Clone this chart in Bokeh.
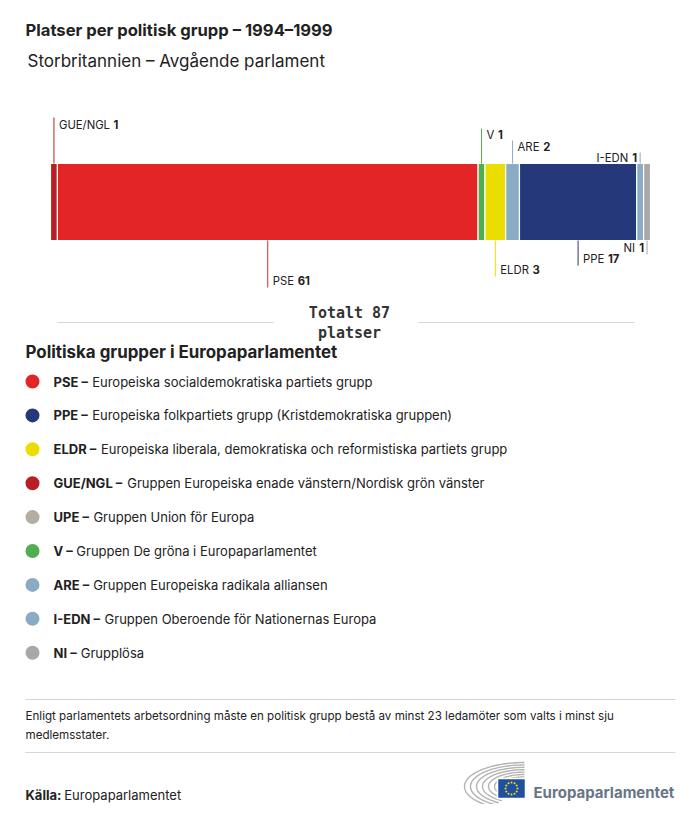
from bokeh.plotting import figure
from bokeh.models import Range1d
from bokeh.embed import file_html
from bokeh.resources import INLINE
from bokeh.core.properties import value
import numpy as np

# ---------------- data ----------------
title = "Platser per politisk grupp – 1994–1999"
subtitle = "Storbritannien – Avgående parlament"

bar_groups = ["GUE/NGL", "PSE", "V", "ELDR", "ARE", "PPE", "I-EDN", "NI"]
bar_seats = [1, 61, 1, 3, 2, 17, 1, 1]
bar_colors = ["#b81f24", "#e42525", "#4fae52", "#ecdd00", "#89acc4", "#25387a", "#89acc4", "#a8a8a8"]

legend_title = "Politiska grupper i Europaparlamentet"
legend_codes = ["PSE", "PPE", "ELDR", "GUE/NGL", "UPE", "V", "ARE", "I-EDN", "NI"]
legend_names = [
    "Europeiska socialdemokratiska partiets grupp",
    "Europeiska folkpartiets grupp (Kristdemokratiska gruppen)",
    "Europeiska liberala, demokratiska och reformistiska partiets grupp",
    "Gruppen Europeiska enade vänstern/Nordisk grön vänster",
    "Gruppen Union för Europa",
    "Gruppen De gröna i Europaparlamentet",
    "Gruppen Europeiska radikala alliansen",
    "Gruppen Oberoende för Nationernas Europa",
    "Grupplösa",
]
legend_colors = ["#e42525", "#25387a", "#ecdd00", "#b81f24", "#b5ada2", "#4fae52", "#89acc4", "#89acc4", "#a8a8a8"]

footnote_lines = [
    "Enligt parlamentets arbetsordning måste en politisk grupp bestå av minst 23 ledamöter som valts i minst sju",
    "medlemsstater.",
]
source_label = "Källa:"
source_name = "Europaparlamentet"
logo_name = "Europaparlamentet"

# ---------------- layout helpers ----------------
FONT = "Inter"
W = {' ': .28, 'a': .55, 'b': .61, 'c': .55, 'd': .61, 'e': .57, 'f': .35, 'g': .61, 'h': .59,
     'i': .24, 'j': .24, 'k': .52, 'l': .24, 'm': .87, 'n': .59, 'o': .59, 'p': .61, 'q': .61,
     'r': .37, 's': .52, 't': .35, 'u': .59, 'v': .54, 'w': .80, 'x': .52, 'y': .54, 'z': .53,
     'å': .55, 'ä': .55, 'ö': .59, 'A': .68, 'B': .64, 'C': .70, 'D': .71, 'E': .58, 'F': .56,
     'G': .72, 'H': .73, 'I': .26, 'J': .50, 'K': .65, 'L': .53, 'M': .87, 'N': .74, 'O': .75,
     'P': .62, 'Q': .75, 'R': .63, 'S': .62, 'T': .62, 'U': .71, 'V': .68, 'W': .98, 'X': .66,
     'Y': .66, 'Z': .63, '/': .34, '-': .42, '–': .50, '(': .35, ')': .35, '.': .27, ',': .27,
     ':': .27, '1': .45}


def tw(s, size, bold=False):
    w = sum(W.get(c, .60) for c in s) * size
    return w * (1.07 if bold else 1.04)


WIDTH, HEIGHT = 684, 804
p = figure(width=WIDTH, height=HEIGHT, output_backend="svg", toolbar_location=None,
           x_range=Range1d(0, WIDTH), y_range=Range1d(HEIGHT, 0),
           x_axis_location=None, y_axis_location=None, min_border=0,
           outline_line_color=None, background_fill_color="white", border_fill_color="white")
p.grid.visible = False

# seats scale: bar spans pixel 50..650
bar_x0, bar_x1 = 50, 650
total = sum(bar_seats)
s = total / (bar_x1 - bar_x0)
p.extra_x_ranges = {"seats": Range1d((0 - bar_x0) * s, (WIDTH - bar_x0) * s)}

DARK = "#222222"

# title
p.text(x=[25], y=[29], text=[title], text_font=value(FONT), text_font_size="16.6px",
       text_font_style="bold", text_color=DARK, text_baseline="middle")
p.text(x=[27], y=[60], text=[subtitle], text_font=value(FONT), text_font_size="17px",
       text_color=DARK, text_baseline="middle")

# bar
cum = np.cumsum([0] + bar_seats)
lefts, rights = cum[:-1], cum[1:]
centers = (lefts + rights) / 2
BAR_TOP, BAR_BOT = 163, 240
p.quad(left=lefts, right=rights, top=BAR_TOP, bottom=BAR_BOT, fill_color=bar_colors,
       line_color="white", line_width=1.2, x_range_name="seats")

# labels
label_pos = {  # side, end of leader line, text y, align
    "GUE/NGL": ("above", 117, 124, "left"),
    "V": ("above", 128, 134, "left"),
    "ARE": ("above", 140, 146, "left"),
    "I-EDN": ("above", 152, 157, "right"),
    "PSE": ("below", 287, 280, "left"),
    "ELDR": ("below", 276, 269, "left"),
    "PPE": ("below", 265, 258, "left"),
    "NI": ("below", 254, 247, "right"),
}
LS = 11.3
GAP = 3.5
lx, ly0, ly1, lcol = [], [], [], []
nx, ny, ntext, noff, nalign = [], [], [], [], []
vx, vy, vtext, voff, valign = [], [], [], [], []
for g, n, c, cx in zip(bar_groups, bar_seats, bar_colors, centers):
    side, yend, ty, al = label_pos[g]
    lx.append(cx); lcol.append(c)
    ly0.append(BAR_TOP if side == "above" else BAR_BOT); ly1.append(yend)
    num = str(n)
    if al == "left":
        nx.append(cx); ny.append(ty); ntext.append(g); noff.append(5); nalign.append("left")
        vx.append(cx); vy.append(ty); vtext.append(num); voff.append(5 + tw(g, LS) + GAP); valign.append("left")
    else:
        vx.append(cx); vy.append(ty); vtext.append(num); voff.append(-3); valign.append("right")
        nx.append(cx); ny.append(ty); ntext.append(g); noff.append(-3 - tw(num, LS, True) - GAP)
        nalign.append("right")

p.segment(x0=lx, x1=lx, y0=ly0, y1=ly1, line_color=lcol, line_width=1, x_range_name="seats")
p.text(x=nx, y=ny, text=ntext, x_offset=noff, text_align=nalign, text_baseline="middle",
       text_font=value(FONT), text_font_size=f"{LS}px", text_color=DARK, x_range_name="seats")
p.text(x=vx, y=vy, text=vtext, x_offset=voff, text_align=valign, text_baseline="middle",
       text_font=value(FONT), text_font_size=f"{LS}px", text_font_style="bold", text_color=DARK,
       x_range_name="seats")

# total
p.segment(x0=[57, 418], x1=[273, 634], y0=[322, 322], y1=[322, 322], line_color="#d6d6d6", line_width=1)
p.text(x=[349, 349], y=[312, 332], text=[f"Totalt {total}", "platser"], text_align="center",
       text_baseline="middle", text_font=value("DejaVu Sans Mono"), text_font_size="15px",
       text_font_style="bold", text_color="#333333")

# legend
p.text(x=[25], y=[351], text=[legend_title], text_font=value(FONT), text_font_size="16.9px",
       text_font_style="bold", text_color=DARK, text_baseline="middle")
LG = 13
ly = [381 + i * 33.9 for i in range(len(legend_codes))]
p.scatter(x=[32] * len(ly), y=ly, size=14, marker="circle", fill_color=legend_colors, line_color=None)
codes = [c + " –" for c in legend_codes]
p.text(x=[53] * len(ly), y=ly, text=codes, text_font=value(FONT), text_font_size=f"{LG}px",
       text_font_style="bold", text_color=DARK, text_baseline="middle")
dx = [53 + tw(c, LG, True) + 2.5 for c in codes]
p.text(x=dx, y=ly, text=legend_names, text_font=value(FONT), text_font_size=f"{LG}px",
       text_color=DARK, text_baseline="middle")

# footnote
p.segment(x0=[25, 25], x1=[675, 675], y0=[699, 752], y1=[699, 752], line_color="#d6d6d6", line_width=1)
p.text(x=[25, 25], y=[715, 734], text=footnote_lines, text_font=value(FONT), text_font_size="11.6px",
       text_color=DARK, text_baseline="middle")

# source
p.text(x=[25], y=[794], text=[source_label], text_font=value(FONT), text_font_size="13px",
       text_font_style="bold", text_color=DARK, text_baseline="middle")
p.text(x=[25 + tw(source_label, 13, True) + 4.0], y=[794], text=[source_name], text_font=value(FONT),
       text_font_size="13px", text_color=DARK, text_baseline="middle")

# logo (decoration)
cxl, cyl = 524, 786
for k in range(7):
    rx = 60 - k * 6
    ry = rx * 0.40
    t = np.linspace(np.pi / 2, 1.32 * np.pi, 40)
    p.line(x=cxl + rx * np.cos(t), y=cyl - ry * np.sin(t), line_color="#b3b3b3", line_width=1.4)
p.quad(left=[497], right=[525], top=[778], bottom=[798], fill_color="#1f4fa0", line_color="white",
       line_width=1.5)
ang = np.linspace(0, 2 * np.pi, 13)[:-1]
p.scatter(x=511 + 6 * np.cos(ang), y=788 + 6 * np.sin(ang), size=2, marker="circle",
          fill_color="#ffdd00", line_color=None)
p.text(x=[533], y=[792], text=[logo_name], text_font=value(FONT), text_font_size="15px",
       text_font_style="bold", text_color="#677587", text_baseline="middle")

open("out.html", "w").write(file_html(p, INLINE))
